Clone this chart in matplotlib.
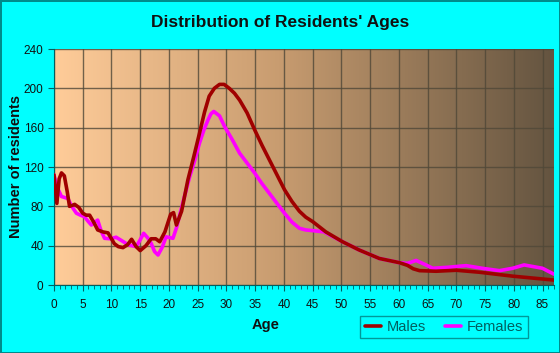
import numpy as np
import matplotlib
matplotlib.use("Agg")
import matplotlib.pyplot as plt
from matplotlib.colors import LinearSegmentedColormap

plt.rcParams['font.family'] = ['Liberation Sans', 'DejaVu Sans']

title = "Distribution of Residents' Ages"
x_label = "Age"
y_label = "Number of residents"
x_ticks = list(range(0, 90, 5))
y_ticks = [0, 40, 80, 120, 160, 200, 240]

male_ages = [0, 0.5, 0.9, 1.3, 1.8, 2.3, 2.7, 3.2, 3.6, 4.3, 5.0, 5.6, 6.2, 6.9, 7.6, 8.5, 9.4,
             10.0, 10.5, 11.2, 12.0, 12.8, 13.5, 14.3, 15.0, 16.0, 16.9, 17.7, 18.4, 19.3, 20.3,
             20.8, 21.3, 22.2, 23.3, 24.3, 25.3, 26.2, 27.0, 27.9, 28.8, 29.6, 30.5, 31.4, 32.3,
             33.6, 34.9, 36.2, 37.5, 38.8, 40.1, 41.4, 42.7, 43.8, 45.0, 47.3, 50.2, 53.1, 56.6,
             60.1, 61.5, 62.5, 63.6, 66.5, 70.0, 74.0, 79.8, 87.0]
male_vals = [112, 83, 108, 114, 111, 95, 80, 81, 82, 79, 73, 71, 71, 64, 56, 54, 53,
             47, 42, 39, 38, 41, 46.5, 39, 35, 40, 47, 47, 44, 54, 72,
             73.6, 61, 75, 107, 130, 154, 176, 192, 200, 204, 204, 200, 195, 188,
             175, 158, 142, 127, 112, 97, 85, 75, 69, 64.5, 54, 44, 35.6, 27,
             22.7, 20, 16.5, 14.6, 14, 15, 13, 9, 5]

female_ages = [0, 0.5, 1.3, 2.4, 3.2, 3.9, 4.6, 5.3, 5.9, 6.5, 7.1, 7.6, 8.2, 8.8, 9.8, 10.8, 11.8,
               12.9, 14.3, 15.0, 15.6, 16.3, 16.9, 17.5, 18.1, 18.8, 19.5, 20.7, 21.3, 21.8, 22.7,
               23.6, 24.5, 25.3, 26.1, 26.8, 27.3, 27.8, 28.8, 29.7, 31.0, 32.3, 33.6, 34.9, 36.2,
               37.5, 38.8, 40.1, 41.4, 42.7, 43.8, 45.0, 47.0, 50.2, 53.1, 56.6, 60.1, 61.5, 63.0,
               64.5, 65.9, 68.5, 71.7, 74.5, 77.5, 79.8, 81.8, 85.0, 87.0]
female_vals = [112, 100, 90, 88, 79, 73, 71, 69.5, 65, 61, 64, 66, 55, 47.5, 47, 48.6, 45,
               41, 39, 46, 52.6, 48, 42.5, 34, 30.5, 38, 49, 47.5, 58, 69.5, 90,
               110, 127, 144, 158, 168, 174, 176.5, 172, 161, 148, 134, 124, 114, 103,
               93, 83, 73, 64, 57.7, 56, 55.3, 54, 44, 35.6, 27, 22.7, 22, 25,
               21, 17, 18, 19.7, 17, 14.6, 17, 20.4, 17, 11]

fig = plt.figure(figsize=(5.6, 3.53), dpi=100)
fig.patch.set_facecolor('#00FFFF')
fig.patch.set_edgecolor('#008B8B')
fig.patch.set_linewidth(2)

ax = fig.add_axes([54/560, (353-285)/353, 500/560, (285-49)/353])
cmap = LinearSegmentedColormap.from_list('bg', [(0.0, '#FFCC99'), (0.45, '#C89C70'), (1.0, '#645440')])
grad = np.linspace(0, 1, 256).reshape(1, -1)
ax.imshow(grad, cmap=cmap, aspect='auto', extent=[0, 1, 0, 1], transform=ax.transAxes, zorder=0)

ax.set_xlim(0, 87)
ax.set_ylim(0, 240)
ax.set_xticks(x_ticks)
ax.set_xticks(range(0, 88), minor=True)
ax.set_yticks(y_ticks)
ax.grid(True, which='major', color='#504838', linewidth=1, alpha=0.8, zorder=1)

ax.plot(male_ages, male_vals, color='#A00000', linewidth=2.6, zorder=4, solid_joinstyle='round', solid_capstyle='round', label='Males')
ax.plot(female_ages, female_vals, color='#FF00FF', linewidth=2.6, zorder=3, solid_joinstyle='round', solid_capstyle='round', label='Females')

for s in ['top', 'right']:
    ax.spines[s].set_visible(False)
ax.spines['left'].set_color('#006060')
ax.spines['bottom'].set_color('#006060')
ax.tick_params(axis='both', which='major', labelsize=8.5, colors='#006060', labelcolor='#111111', length=4, direction='out')
ax.tick_params(axis='x', which='minor', length=3, colors='#006060')
ax.tick_params(axis='x', which='major', pad=6)

fig.text(0.5, 1 - 23/353, title, ha='center', va='center', fontsize=12.5, fontweight='bold', color='#111111')
fig.text(16/560, 1 - 167/353, y_label, rotation=90, ha='center', va='center', fontsize=10.5, fontweight='bold', color='#111111')
fig.text(266/560, 1 - 325/353, x_label, ha='center', va='center', fontsize=10.5, fontweight='bold', color='#111111')

leg = fig.legend(loc='center', bbox_to_anchor=(444/560, 1 - 327/353), ncol=2, fontsize=10.5,
                 frameon=True, fancybox=False, handlelength=1.1, handletextpad=0.4, columnspacing=1.3,
                 borderpad=0.3)
leg.get_frame().set_facecolor('#00FFFF')
leg.get_frame().set_edgecolor('#008080')
leg.get_frame().set_linewidth(1)
for t in leg.get_texts():
    t.set_color('#006060')

fig.savefig('out.png', dpi=100, facecolor=fig.get_facecolor(), edgecolor=fig.get_edgecolor())
